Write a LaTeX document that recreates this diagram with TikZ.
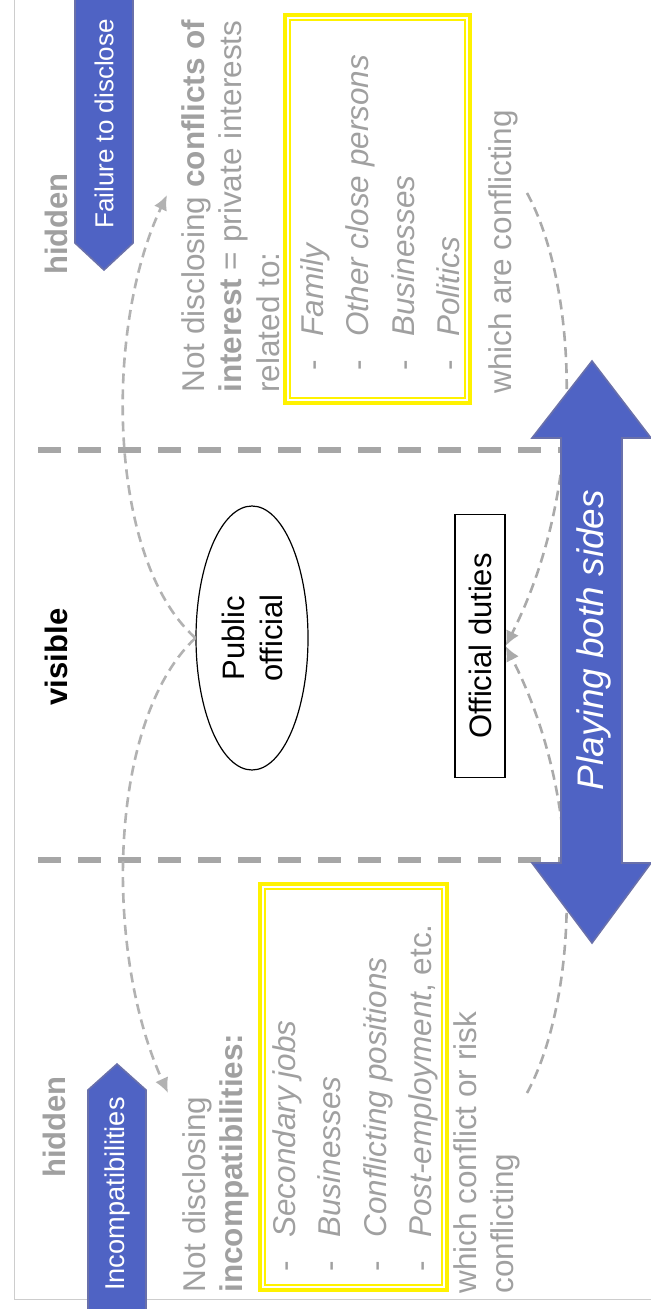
\documentclass[tikz,border=0pt]{standalone}
\usepackage{fontspec}
\setmainfont{Liberation Sans}
\usetikzlibrary{shapes.geometric,arrows.meta}
\definecolor{txtgray}{RGB}{160,160,160}
\definecolor{sepgray}{RGB}{166,166,166}
\definecolor{linkgray}{RGB}{178,178,178}
\definecolor{tagblue}{RGB}{79,99,196}
\definecolor{tagedge}{RGB}{105,112,170}
\definecolor{framegray}{RGB}{205,205,205}
\begin{document}
\begin{tikzpicture}[x=0.5pt,y=-0.5pt,
    body/.style={rotate=90, anchor=north west, inner sep=0pt, align=left, text=txtgray, font=\fontsize{15.75}{18.75}\selectfont},
    items/.style={body, font=\fontsize{15.75}{22.7}\selectfont},
    zone/.style={rotate=90, inner sep=0pt, font=\fontsize{15.5}{18}\selectfont\bfseries},
    tag/.style={fill=tagblue, draw=tagedge, line width=0.8pt},
    tagtext/.style={rotate=90, inner sep=0pt, text=white, font=\fontsize{13}{15}\selectfont},
    box/.style={rotate=90, draw, line width=0.6pt, inner sep=0pt, align=center, font=\fontsize{15.5}{19}\selectfont},
    sep/.style={draw=sepgray, line width=3.2pt, dash pattern=on 11.5pt off 8.5pt},
    link/.style={draw=linkgray, line width=1.3pt, dash pattern=on 5pt off 3pt, -{Latex[length=7.5pt,width=7pt]}}]
    \useasboundingbox (0,0) rectangle (651,1309);
    \draw [framegray, line width=0.5pt] (14,0) -- (14,1299) -- (651,1299);
    \draw [sep] (38,450) -- (600,450);
    \draw [sep] (38,860) -- (600,860);
    \draw [yellow, line width=2pt] (285,15) rectangle (470,403);
    \draw [yellow, line width=0.65pt] (290,20) rectangle (465,398);
    \draw [yellow, line width=2pt] (260,884) rectangle (447,1290);
    \draw [yellow, line width=0.65pt] (265,889) rectangle (442,1285);
    \node [zone, text=txtgray] (hidtop) at (56,224) {hidden};
    \node [zone] (vis) at (56,657) {visible};
    \node [zone, text=txtgray] (hidbot) at (54,1127) {hidden};
    \draw [tag] (75,-5) -- (133,-5) -- (133,243) -- (104,270) -- (75,243) -- cycle;
    \node [tagtext] (fail) at (104,124) {Failure to disclose};
    \draw [tag] (88,1315) -- (88,1090) -- (117,1064) -- (146,1090) -- (146,1315) -- cycle;
    \node [tagtext, font=\fontsize{13.6}{15}\selectfont] (incomp) at (117,1194) {Incompatibilities};
    \node [body] (coi) at (181,393) {Not disclosing \textbf{conflicts of}\\\textbf{interest} = private interests\\related to:};
    \node [items] (coilist) at (300,371) {\makebox[17pt][l]{-}\textit{Family}\\\makebox[17pt][l]{-}\textit{Other close persons}\\\makebox[17pt][l]{-}\textit{Businesses}\\\makebox[17pt][l]{-}\textit{Politics}};
    \node [body] (conf) at (488,394) {which are conflicting};
    \node [body] (inc) at (182,1293) {Not disclosing\\\textbf{incompatibilities:}};
    \node [items] (inclist) at (272,1272) {\makebox[17pt][l]{-}\textit{Secondary jobs}\\\makebox[17pt][l]{-}\textit{Businesses}\\\makebox[17pt][l]{-}\textit{Conflicting positions}\\\makebox[17pt][l]{-}\textit{Post-employment}, etc.};
    \node [body] (risk) at (453,1294) {which conflict or risk\\conflicting};
    \node [box, shape=ellipse, minimum width=132pt, minimum height=56pt] (po) at (252,638) {Public\\official};
    \node [box, minimum width=131.5pt, minimum height=25pt] (od) at (480,646) {Official duties};
    \coordinate (coitip) at (167,195);
    \coordinate (inctip) at (168,1093);
    \coordinate (confstart) at (527,193);
    \coordinate (riskstart) at (527,1093);
    \draw [link] (po.north) .. controls (108,560) and (103,330) .. (coitip);
    \draw [link] (po.north) .. controls (108,720) and (103,950) .. (inctip);
    \draw [link, draw=txtgray!90] (confstart) .. controls (575,280) and (590,480) .. (od.south);
    \draw [link, draw=txtgray!90] (riskstart) .. controls (575,1005) and (590,810) .. (od.south);
    \draw [tag] (561,863) -- (532,863) -- (592,943) -- (651,863) -- (622,863) -- (622,438) -- (651,438) -- (592,361) -- (532,438) -- (561,438) -- cycle;
    \node [rotate=90, inner sep=0pt, text=white, font=\fontsize{18.5}{20}\selectfont\itshape] (both) at (594,640) {Playing both sides};
\end{tikzpicture}
\end{document}
